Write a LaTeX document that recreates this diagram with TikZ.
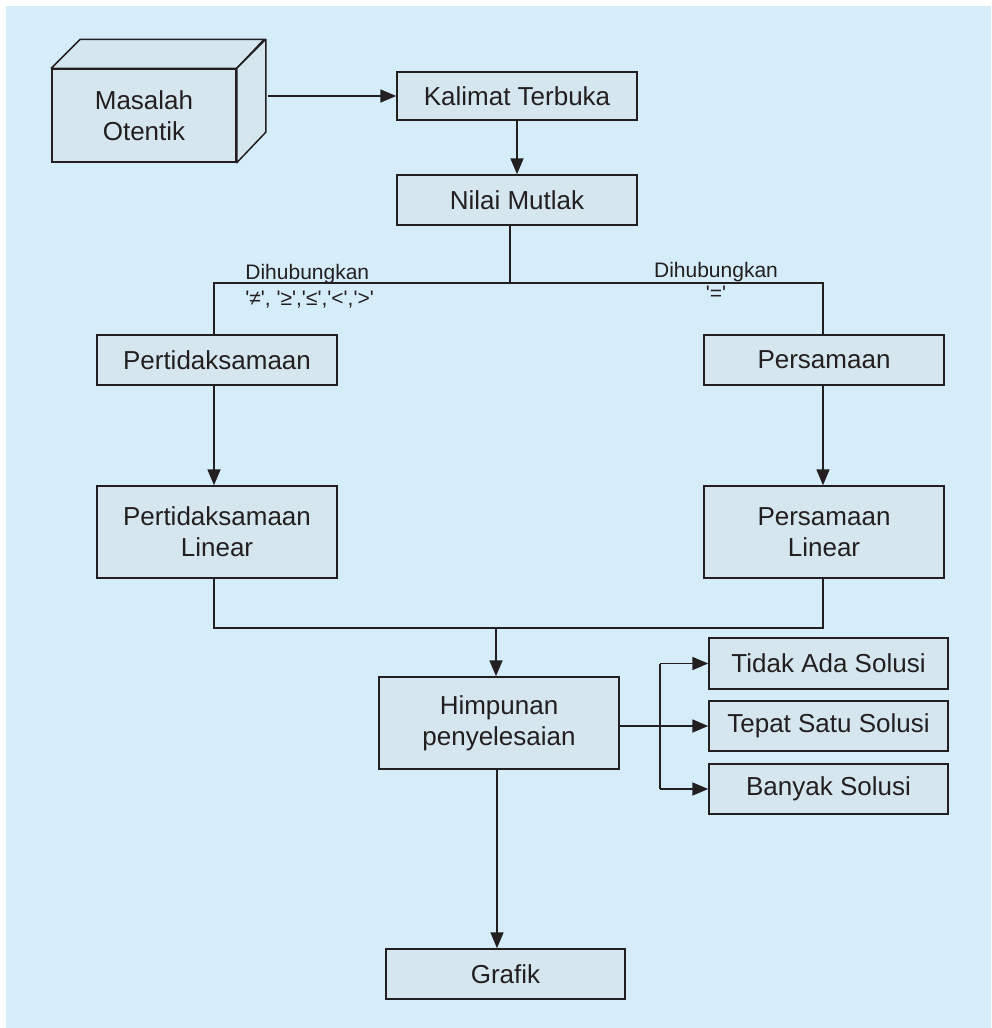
\documentclass[tikz,border=0pt]{standalone}
\usepackage{fontspec}
\setmainfont{Liberation Sans}
\usetikzlibrary{arrows.meta}
\definecolor{bgblue}{RGB}{213,236,249}
\definecolor{boxfill}{RGB}{214,230,239}
\definecolor{ink}{RGB}{35,31,32}
\tikzset{
  box/.style={draw=ink, line width=0.75pt, fill=boxfill, align=center, text=ink,
    font=\fontsize{13pt}{15.5pt}\selectfont, inner sep=0pt},
  conn/.style={draw=ink, line width=0.9pt},
  arr/.style={conn, -{Triangle[length=8pt,width=6.5pt]}},
  lbl/.style={text=ink, font=\fontsize{10.5pt}{12pt}\selectfont, inner sep=0pt}
}
\newcommand{\sq}{\textquotesingle}
\begin{document}
\begin{tikzpicture}[x=0.5pt,y=-0.5pt]
\useasboundingbox (0,0) rectangle (991,1028);
\fill[bgblue] (6,6) rectangle (991,1028);

% 3D box
\node[box, minimum width=92pt, minimum height=46.5pt] (mas) at (144,115.5) {Masalah\\Otentik};
\filldraw[fill=boxfill, draw=ink, line width=0.75pt, line join=round]
  (mas.north west) -- ++(29,-29) -- ++(184,0) -- (mas.north east) -- cycle;
\filldraw[fill=boxfill, draw=ink, line width=0.75pt, line join=round]
  (mas.north east) -- ++(29,-29) -- ++(0,93) -- (mas.south east) -- cycle;
\coordinate (masR) at ([xshift=15.5pt]mas.east);

\node[box, minimum width=120pt, minimum height=24pt] (kal) at (517,96) {Kalimat Terbuka};
\node[box, minimum width=120pt, minimum height=25pt] (nil) at (517,200) {Nilai Mutlak};
\node[box, minimum width=120pt, minimum height=25pt] (pert) at (217,360) {Pertidaksamaan};
\node[box, minimum width=120pt, minimum height=46pt] (pertl) at (217,532) {Pertidaksamaan\\Linear};
\node[box, minimum width=120pt, minimum height=25pt] (pers) at (824,360) {Persamaan};
\node[box, minimum width=120pt, minimum height=46pt] (persl) at (824,532) {Persamaan\\Linear};
\node[box, minimum width=120pt, minimum height=46pt] (him) at (499,723) {Himpunan\\penyelesaian};
\node[box, minimum width=119.5pt, minimum height=25.5pt] (tid) at (828.5,663.5) {Tidak Ada Solusi};
\node[box, minimum width=119.5pt, minimum height=25pt] (tep) at (828.5,726) {Tepat Satu Solusi};
\node[box, minimum width=119.5pt, minimum height=25pt] (ban) at (828.5,789) {Banyak Solusi};
\node[box, minimum width=119.5pt, minimum height=25pt] (gra) at (505.5,974) {Grafik};

\coordinate (jT) at (510,283);
\coordinate (jL) at (214,283);
\coordinate (jR) at (823,283);
\coordinate (bL) at (214,628);
\coordinate (bR) at (823,628);
\coordinate (bM) at (496,628);
\coordinate (gM) at (497,769);
\coordinate (jS) at (660,726);

\draw[arr] (masR |- kal.west) -- (kal.west);
\draw[arr] (kal.south) -- (nil.north);
\draw[conn] (nil.south -| jT) -- (jT);
\draw[conn] (pert.north -| jL) -- (jL) -- (jR) -- (pers.north -| jR);
\draw[arr] (pert.south -| jL) -- (pertl.north -| jL);
\draw[arr] (pers.south -| jR) -- (persl.north -| jR);
\draw[conn] (pertl.south -| bL) -- (bL) -- (bR) -- (persl.south -| bR);
\draw[arr] (bM) -- (him.north -| bM);
\draw[arr] (him.south -| gM) -- (gra.north -| gM);
\draw[arr] (him.east |- tep.west) -- (tep.west);
\draw[conn] (jS |- tid.west) -- (jS |- ban.west);
\draw[arr] (jS |- tid.west) -- (tid.west);
\draw[arr] (jS |- ban.west) -- (ban.west);

\node[lbl, anchor=base west] (l1) at (245,279) {Dihubungkan};
\node[lbl, anchor=base west] (l2) at (245,305) {\sq≠\sq, \sq≥\sq,\sq≤\sq,\sq<\sq,\sq>\sq};
\node[lbl, anchor=base] (r1) at (716,277) {Dihubungkan};
\node[lbl, anchor=base] (r2) at (716,300) {\sq=\sq};
\end{tikzpicture}
\end{document}
